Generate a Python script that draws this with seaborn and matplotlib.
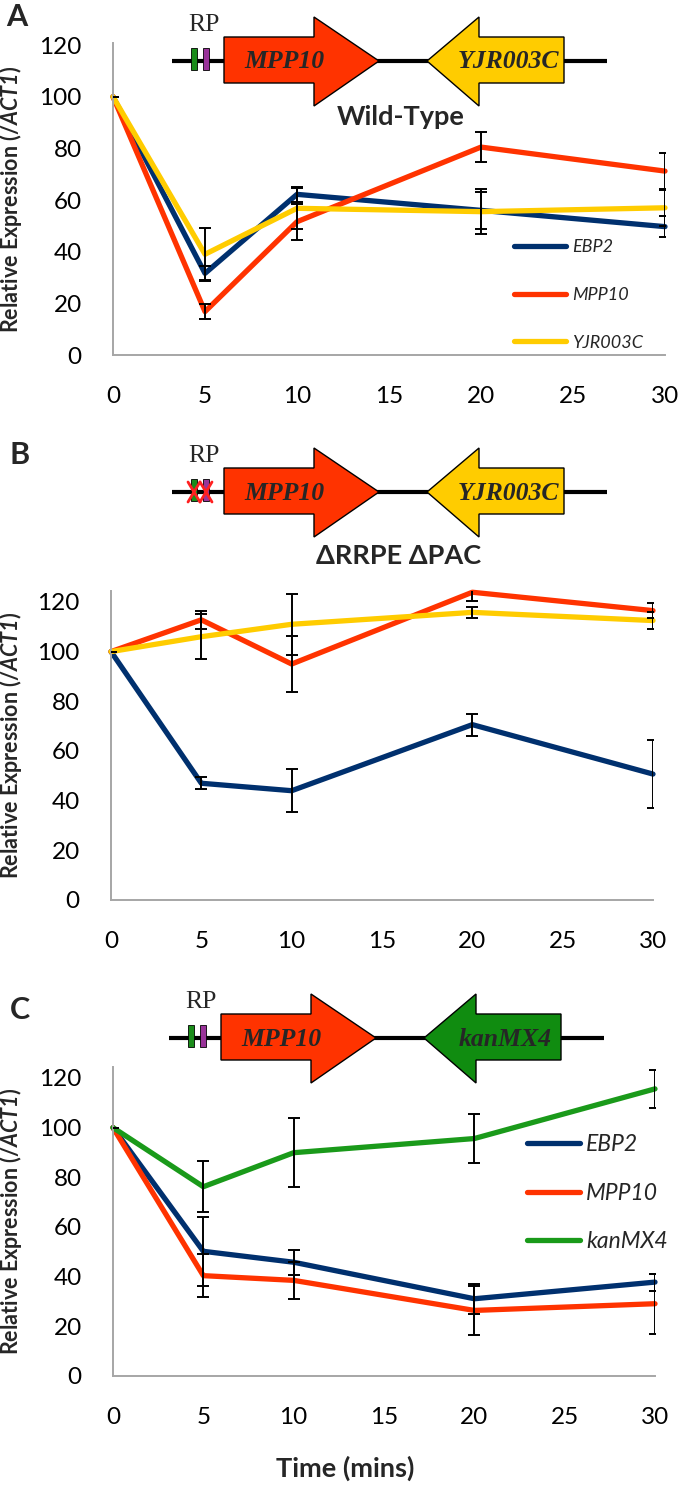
import matplotlib
matplotlib.use("Agg")
import matplotlib.pyplot as plt
import seaborn as sns
import pandas as pd
from matplotlib.patches import Polygon, Rectangle

# ---------------- data ----------------
times = [0, 5, 10, 20, 30]
x_ticks = [0, 5, 10, 15, 20, 25, 30]
y_ticks = [0, 20, 40, 60, 80, 100, 120]

# Panel A : Wild-Type
a_ebp2 = [100, 31.6, 62.2, 56.0, 49.7]
a_ebp2_err = [0, 3.0, 3.0, 7.2, 4.2]
a_mpp10 = [100, 16.8, 51.6, 80.5, 71.2]
a_mpp10_err = [0, 2.8, 7.0, 5.8, 7.0]
a_yjr = [100, 39.0, 56.8, 55.5, 57.0]
a_yjr_err = [0, 10.0, 8.0, 8.7, 7.0]

# Panel B : dRRPE dPAC
b_ebp2 = [100, 47.0, 44.0, 70.6, 50.7]
b_ebp2_err = [0, 2.4, 8.7, 4.4, 13.6]
b_mpp10 = [100, 112.8, 95.0, 123.9, 116.5]
b_mpp10_err = [0, 3.7, 11.2, 3.4, 3.0]
b_yjr = [100, 106.0, 111.0, 115.8, 112.5]
b_yjr_err = [0, 9.0, 12.3, 2.1, 3.5]

# Panel C : kanMX4 replacement
c_ebp2 = [100, 50.2, 45.8, 31.1, 37.8]
c_ebp2_err = [0, 14.0, 5.0, 6.0, 3.4]
c_mpp10 = [100, 40.4, 38.5, 26.4, 29.1]
c_mpp10_err = [0, 8.6, 7.4, 10.0, 12.0]
c_kan = [100, 76.2, 89.9, 95.6, 115.6]
c_kan_err = [0, 10.3, 13.8, 9.9, 7.7]

colors = {"EBP2": "#00306E", "MPP10": "#FF3300", "YJR003C": "#FFCC00", "kanMX4": "#1A9A1A"}

# ---------------- style ----------------
sns.set_style("white")
plt.rcParams["font.family"] = ["Lato", "DejaVu Sans"]
plt.rcParams["mathtext.fontset"] = "custom"
plt.rcParams["mathtext.bfit"] = "Lato:italic:bold"
plt.rcParams["mathtext.it"] = "Lato:italic"
plt.rcParams["mathtext.bf"] = "Lato:bold"
plt.rcParams["mathtext.rm"] = "Lato"

W, H = 680, 1485
fig = plt.figure(figsize=(W / 100, H / 100), dpi=100)
fig.patch.set_facecolor("white")


def rect(left, right, top, bottom):
    return [left / W, 1 - bottom / H, (right - left) / W, (bottom - top) / H]


axA = fig.add_axes(rect(113, 665, 43, 355))
axB = fig.add_axes(rect(111, 653, 591, 900))
axC = fig.add_axes(rect(113, 655, 1067, 1376))


def panel(ax, series, ytop):
    rows = []
    for name, vals, errs in series:
        for t, v in zip(times, vals):
            rows.append({"time": t, "value": v, "gene": name})
    df = pd.DataFrame(rows)
    order = [s[0] for s in series]
    sns.lineplot(data=df, x="time", y="value", hue="gene", hue_order=order,
                 palette=colors, linewidth=3.8, errorbar=None, ax=ax,
                 legend=True, clip_on=False)
    for name, vals, errs in series:
        ax.errorbar(times, vals, yerr=errs, fmt="none", ecolor="black",
                    elinewidth=1.4, capsize=4.5, capthick=1.4, zorder=5)
    ax.set_xlim(0, 30)
    ax.set_ylim(0, ytop)
    ax.set_xticks(x_ticks)
    ax.set_yticks(y_ticks)
    ax.set_xlabel("")
    ax.set_ylabel("")
    for s in ["top", "right"]:
        ax.spines[s].set_visible(False)
    for s in ["left", "bottom"]:
        ax.spines[s].set_color("#A6A6A6")
        ax.spines[s].set_linewidth(1.4)
    ax.tick_params(direction="out", length=5.5, width=1.4, color="#A6A6A6",
                   labelsize=17.5, pad=17, labelcolor="black")
    ax.set_facecolor("white")


panel(axA, [("EBP2", a_ebp2, a_ebp2_err), ("MPP10", a_mpp10, a_mpp10_err),
            ("YJR003C", a_yjr, a_yjr_err)], 120.8)
panel(axB, [("EBP2", b_ebp2, b_ebp2_err), ("MPP10", b_mpp10, b_mpp10_err),
            ("YJR003C", b_yjr, b_yjr_err)], 124.4)
panel(axC, [("EBP2", c_ebp2, c_ebp2_err), ("MPP10", c_mpp10, c_mpp10_err),
            ("kanMX4", c_kan, c_kan_err)], 124.4)

# legends
legA = axA.legend(loc="center left", bbox_to_anchor=(0.7264, 0.1923), frameon=False,
                  borderpad=0, borderaxespad=0, handlelength=2.9, handletextpad=0.3,
                  labelspacing=1.75, prop={"family": "Lato", "style": "italic", "size": 13})
axB.get_legend().remove()
legC = axC.legend(loc="center left", bbox_to_anchor=(0.7638, 0.592), frameon=False,
                  borderpad=0, borderaxespad=0, handlelength=2.3, handletextpad=0.28,
                  labelspacing=1.2, prop={"family": "Lato", "style": "italic", "size": 16.5})
for leg in (legA, legC):
    for ln in leg.get_lines():
        ln.set_linewidth(3.8)

# y labels
for (top, bot) in [(43, 355), (591, 900), (1067, 1376)]:
    fig.text(11 / W, 1 - ((top + bot) / 2) / H, r"Relative Expression (/$\mathbfit{ACT1}$)",
             rotation=90, ha="center", va="center", fontsize=15.5, fontweight="bold")

# x label
fig.text(345 / W, 1 - 1468 / H, "Time (mins)", ha="center", va="center",
         fontsize=19.5, fontweight="bold")

# ---------------- gene diagrams (overlay in pixel coords) ----------------
ov = fig.add_axes([0, 0, 1, 1], zorder=10)
ov.set_xlim(0, W)
ov.set_ylim(H, 0)
ov.axis("off")
ov.patch.set_alpha(0)


def diagram(dy, dx, right_name, right_color, deleted=False):
    y = 61 + dy
    ov.plot([172 + dx, 607 + dx], [y, y], color="black", lw=3, solid_capstyle="butt", zorder=1)
    ov.add_patch(Rectangle((191 + dx, 48 + dy), 6, 22, facecolor="#1A8C1A",
                           edgecolor="black", lw=0.6, zorder=2))
    ov.add_patch(Rectangle((203 + dx, 48 + dy), 6, 22, facecolor="#993399",
                           edgecolor="black", lw=0.6, zorder=2))
    if deleted:
        for cx in (194 + dx, 206 + dx):
            ov.plot([cx - 6, cx + 6], [y - 10, y + 10], color="#FF2020", lw=2, zorder=3)
            ov.plot([cx - 6, cx + 6], [y + 10, y - 10], color="#FF2020", lw=2, zorder=3)
    ov.text(204 + dx, 25 + dy, "RP", family="Liberation Serif", fontsize=18.5,
            ha="center", va="center")
    mpp = [(224, 37), (314, 37), (314, 17), (379, 61), (314, 106), (314, 83), (224, 83)]
    ov.add_patch(Polygon([(px + dx, py + dy) for px, py in mpp], closed=True,
                         facecolor="#FF3300", edgecolor="black", lw=1, zorder=2))
    ov.text(284 + dx, 62 + dy, "MPP10", family="Liberation Serif", fontsize=18.5,
            fontweight="bold", style="italic", ha="center", va="center", zorder=3)
    rgt = [(427, 61), (479, 17), (479, 37), (564, 37), (564, 83), (479, 83), (479, 106)]
    ov.add_patch(Polygon([(px + dx, py + dy) for px, py in rgt], closed=True,
                         facecolor=right_color, edgecolor="black", lw=1, zorder=2))
    ov.text(508 + dx, 62 + dy, right_name, family="Liberation Serif", fontsize=18.5,
            fontweight="bold", style="italic", ha="center", va="center", zorder=3)


diagram(0, 0, "YJR003C", "#FFCC00")
diagram(431, 0, "YJR003C", "#FFCC00", deleted=True)
diagram(977, -3, "kanMX4", "#108C10")

ov.text(401, 117, "Wild-Type", fontsize=19.5, fontweight="bold", ha="center", va="center")
ov.text(399, 556, "ΔRRPE ΔPAC", fontsize=19.5, fontweight="bold", ha="center", va="center",
        family=["Lato", "DejaVu Sans"])

for lab, (lx, ly) in zip(["A", "B", "C"], [(17, 17), (20, 455), (20, 1010)]):
    ov.text(lx, ly, lab, fontsize=22, fontweight="bold", ha="center", va="center")

fig.savefig("out.png", dpi=100)
